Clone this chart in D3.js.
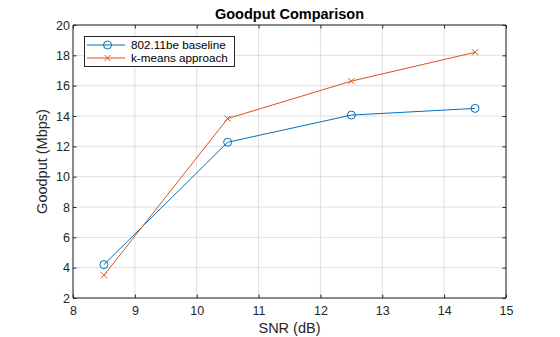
<!DOCTYPE html>
<html>
<head>
<meta charset="utf-8">
<script src="https://cdn.jsdelivr.net/npm/d3@7"></script>
<style>
  html, body { margin: 0; padding: 0; background: #fff; }
  svg { display: block; font-family: "Liberation Sans", Arial, sans-serif; }
</style>
</head>
<body>
<svg id="chart" width="560" height="337"></svg>
<script>
// SNR points (dB) and goodput (Mbps) per scheme
const snr = [8.5, 10.5, 12.5, 14.5];
const baseline = [4.2, 12.27, 14.06, 14.5];
const kmeans = [3.5, 13.83, 16.3, 18.2];
const seriesNames = ["802.11be baseline", "k-means approach"];
const xTicks = [8, 9, 10, 11, 12, 13, 14, 15];
const yTicks = [2, 4, 6, 8, 10, 12, 14, 16, 18, 20];

const svg = d3.select("#chart");
const m = { left: 73, top: 25, right: 506, bottom: 298 };
const x = d3.scaleLinear().domain([8, 15]).range([m.left, m.right]);
const y = d3.scaleLinear().domain([2, 20]).range([m.bottom, m.top]);
const axisColor = "#262626";
const colors = ["#0072BD", "#D95319"];
const font = "Liberation Sans, Arial, sans-serif";

// grid
const grid = svg.append("g");
grid.selectAll(".gx").data(xTicks).join("line")
  .attr("x1", d => x(d)).attr("x2", d => x(d))
  .attr("y1", m.top).attr("y2", m.bottom)
  .attr("stroke", "#dfdfdf").attr("stroke-width", 1);
grid.selectAll(".gy").data(yTicks).join("line")
  .attr("x1", m.left).attr("x2", m.right)
  .attr("y1", d => y(d)).attr("y2", d => y(d))
  .attr("stroke", "#dfdfdf").attr("stroke-width", 1);

// axes with inward ticks, boxed on all four sides
const tickLen = 3.5;
const bottomAxis = svg.append("g").attr("transform", `translate(0,${m.bottom})`)
  .call(d3.axisBottom(x).tickValues(xTicks).tickSize(-tickLen).tickPadding(8).tickFormat(d3.format("d")));
const topAxis = svg.append("g").attr("transform", `translate(0,${m.top})`)
  .call(d3.axisTop(x).tickValues(xTicks).tickSize(-tickLen).tickFormat(""));
const leftAxis = svg.append("g").attr("transform", `translate(${m.left},0)`)
  .call(d3.axisLeft(y).tickValues(yTicks).tickSize(-tickLen).tickPadding(3).tickFormat(d3.format("d")));
const rightAxis = svg.append("g").attr("transform", `translate(${m.right},0)`)
  .call(d3.axisRight(y).tickValues(yTicks).tickSize(-tickLen).tickFormat(""));
[bottomAxis, topAxis, leftAxis, rightAxis].forEach(g => {
  g.selectAll(".domain").attr("stroke", axisColor).attr("stroke-width", 1);
  g.selectAll(".tick line").attr("stroke", axisColor);
  g.selectAll(".tick text").attr("fill", axisColor).attr("font-size", 12.5)
    .attr("font-family", font);
});
[bottomAxis, topAxis].forEach(g => g.select(".domain").attr("d", `M${m.left},0H${m.right}`));
[leftAxis, rightAxis].forEach(g => g.select(".domain").attr("d", `M0,${m.top}V${m.bottom}`));

// series
const line = d3.line().x(d => x(d[0])).y(d => y(d[1]));
const data = [baseline, kmeans].map(v => snr.map((s, i) => [s, v[i]]));

data.forEach((pts, k) => {
  svg.append("path").datum(pts).attr("d", line)
    .attr("fill", "none").attr("stroke", colors[k]).attr("stroke-width", 1);
});
svg.selectAll(".circ").data(data[0]).join("circle")
  .attr("cx", d => x(d[0])).attr("cy", d => y(d[1])).attr("r", 4)
  .attr("fill", "none").attr("stroke", colors[0]).attr("stroke-width", 1);
const cross = 3;
svg.selectAll(".cross").data(data[1]).join("path")
  .attr("d", d => {
    const cx = x(d[0]), cy = y(d[1]);
    return `M${cx - cross},${cy - cross}L${cx + cross},${cy + cross}M${cx - cross},${cy + cross}L${cx + cross},${cy - cross}`;
  })
  .attr("fill", "none").attr("stroke", colors[1]).attr("stroke-width", 1);

// legend
const lg = svg.append("g");
lg.append("rect").attr("x", 84.5).attr("y", 36.5).attr("width", 150).attr("height", 30)
  .attr("fill", "#fff").attr("stroke", axisColor).attr("stroke-width", 1);
seriesNames.forEach((name, k) => {
  const ly = 45 + k * 13;
  lg.append("line").attr("x1", 87).attr("x2", 125).attr("y1", ly).attr("y2", ly)
    .attr("stroke", colors[k]).attr("stroke-width", 1);
  if (k === 0) {
    lg.append("circle").attr("cx", 107.5).attr("cy", ly).attr("r", 4)
      .attr("fill", "none").attr("stroke", colors[k]);
  } else {
    lg.append("path").attr("d", `M104.5,${ly - 3}L110.5,${ly + 3}M104.5,${ly + 3}L110.5,${ly - 3}`)
      .attr("stroke", colors[k]).attr("fill", "none");
  }
  lg.append("text").attr("x", 131).attr("y", ly + 4.2).attr("font-size", 11.7)
    .attr("fill", "#000").text(name);
});

// title and axis labels
svg.append("text").attr("x", (m.left + m.right) / 2).attr("y", 19)
  .attr("text-anchor", "middle").attr("font-size", 14.5).attr("font-weight", "bold")
  .attr("fill", "#000").text("Goodput Comparison");
svg.append("text").attr("x", (m.left + m.right) / 2).attr("y", 333)
  .attr("text-anchor", "middle").attr("font-size", 14.5).attr("fill", axisColor).text("SNR (dB)");
svg.append("text").attr("transform", `translate(47,${(m.top + m.bottom) / 2}) rotate(-90)`)
  .attr("text-anchor", "middle").attr("font-size", 14.5).attr("fill", axisColor).text("Goodput (Mbps)");
</script>
</body>
</html>
